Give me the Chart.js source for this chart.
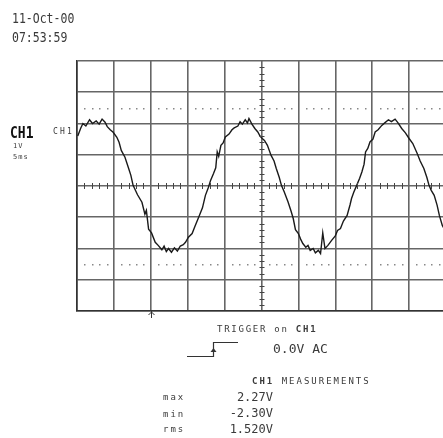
<!DOCTYPE html>
<html>
<head>
<meta charset="utf-8">
<script src="https://cdn.jsdelivr.net/npm/chart.js@4.4.1/dist/chart.umd.min.js"></script>
<style>
html,body{margin:0;padding:0;background:#fff;}
#wrap{position:relative;width:443px;height:438px;overflow:hidden;}
canvas{position:absolute;left:0;top:0;}
.t{position:absolute;font-family:"DejaVu Sans Mono","Liberation Mono",monospace;color:#3a3a3a;white-space:pre;line-height:1;transform-origin:0 0;}
</style>
</head>
<body>
<div id="wrap">
<canvas id="c" width="446" height="438"></canvas>
<div class="t" style="left:12px;top:12px;font-size:11.5px;transform:scaleY(1.2);">11-Oct-00</div>
<div class="t" style="left:12px;top:31px;font-size:11.5px;transform:scaleY(1.2);">07:53:59</div>
<div class="t" style="left:10px;top:125px;font-size:13px;font-weight:bold;color:#111;transform:scaleY(1.2);">CH1</div>
<div class="t" style="left:13px;top:143px;font-size:7px;letter-spacing:1px;">1V</div>
<div class="t" style="left:13px;top:154px;font-size:7px;letter-spacing:1px;">5ms</div>
<div class="t" style="left:53px;top:128px;font-size:8px;letter-spacing:2.2px;">CH1</div>
<div class="t" style="left:217px;top:325px;font-size:9px;letter-spacing:1.75px;">TRIGGER on <b>CH1</b></div>
<div class="t" style="left:273px;top:342px;font-size:13px;">0.0V AC</div>
<div class="t" style="left:252px;top:377px;font-size:9px;letter-spacing:2px;"><b>CH1</b> MEASUREMENTS</div>
<div class="t" style="left:163px;top:393px;font-size:9px;letter-spacing:2px;">max</div>
<div class="t" style="left:163px;top:410px;font-size:9px;letter-spacing:2px;">min</div>
<div class="t" style="left:163px;top:425px;font-size:9px;letter-spacing:2px;">rms</div>
<div class="t" style="right:170px;top:391px;font-size:12px;">2.27V</div>
<div class="t" style="right:170px;top:407px;font-size:12px;">-2.30V</div>
<div class="t" style="right:170px;top:423px;font-size:12px;">1.520V</div>
</div>
<script>
// time in ms (5 ms/div, 10 divisions)
const timeMs = [0.1,0.5,0.8,1.2,1.7,2.1,2.6,3.0,3.4,3.8,4.1,4.5,4.9,5.4,5.7,6.0,6.5,7.0,7.3,7.6,8.2,8.8,9.2,9.4,9.7,10.1,10.6,11.0,11.5,11.8,12.1,12.4,12.8,13.2,13.6,14.0,14.4,14.7,15.1,15.6,16.0,16.5,17.0,17.4,17.8,18.1,18.5,18.8,19.0,19.2,19.5,19.8,20.1,20.6,21.0,21.3,21.8,22.1,22.4,22.8,23.1,23.3,23.7,24.1,24.5,24.8,25.1,25.4,25.8,26.3,26.7,27.0,27.4,27.7,28.1,28.6,29.0,29.3,29.6,30.0,30.3,30.6,31.0,31.3,31.6,32.0,32.3,32.7,33.0,33.3,33.6,34.0,34.5,35.0,35.3,35.7,36.1,36.6,37.0,37.2,37.5,37.9,38.3,38.6,38.9,39.1,39.4,39.7,40.1,40.4,40.8,41.3,41.7,42.2,42.6,43.1,43.5,44.0,44.5,45.0,45.5,46.1,46.5,47.0,47.4,47.7,48.0,48.4,48.8,49.1,49.5,50.0];
// CH1 volts (1 V/div)
const ch1Volts = [1.60,1.85,2.00,1.92,2.12,2.00,2.08,1.98,2.14,2.04,1.90,1.80,1.72,1.56,1.40,1.14,0.92,0.56,0.34,0.02,-0.28,-0.52,-0.90,-0.78,-1.38,-1.50,-1.80,-1.90,-2.04,-1.92,-2.10,-2.00,-2.12,-1.98,-2.08,-1.92,-1.88,-1.80,-1.64,-1.52,-1.28,-0.99,-0.70,-0.30,-0.05,0.18,0.40,0.58,1.09,0.95,1.30,1.38,1.57,1.66,1.80,1.86,1.92,2.06,1.98,2.12,2.02,2.16,1.98,1.84,1.73,1.60,1.52,1.46,1.30,0.98,0.80,0.56,0.28,0.02,-0.20,-0.51,-0.80,-1.04,-1.40,-1.52,-1.70,-1.84,-1.96,-1.90,-2.06,-2.00,-2.14,-2.06,-2.16,-1.50,-2.00,-1.90,-1.74,-1.60,-1.42,-1.36,-1.12,-0.94,-0.60,-0.40,-0.20,0.02,0.25,0.45,0.70,1.09,1.20,1.41,1.50,1.73,1.80,1.94,2.02,2.12,2.06,2.14,2.02,1.84,1.70,1.52,1.36,1.04,0.80,0.56,0.28,0.02,-0.14,-0.30,-0.62,-0.94,-1.26,-1.47];
const xRange = [0, 50];
const yRange = [-4, 4];
const dottedLevels = [2.5, -2.5];
const triggerTimeMs = 10;

const points = timeMs.map((t, i) => ({x: t, y: ch1Volts[i]}));

const scopePlugin = {
  id: 'scope',
  afterDatasetsDraw(chart) {
    const ctx = chart.ctx, xs = chart.scales.x, ys = chart.scales.y, a = chart.chartArea;
    ctx.save();
    const cx = xs.getPixelForValue(25), cy = ys.getPixelForValue(0);
    ctx.strokeStyle = '#444';
    ctx.lineWidth = 1;
    for (let t = xRange[0]; t <= xRange[1]; t += 1) {
      if (t % 5 === 0) continue;
      const px = Math.round(xs.getPixelForValue(t)) + 0.5;
      ctx.beginPath(); ctx.moveTo(px, cy - 3); ctx.lineTo(px, cy + 3); ctx.stroke();
    }
    for (let v = -40; v <= 40; v += 2) {
      if (v % 10 === 0) continue;
      const py = Math.round(ys.getPixelForValue(v / 10)) + 0.5;
      ctx.beginPath(); ctx.moveTo(cx - 2, py); ctx.lineTo(cx + 3, py); ctx.stroke();
    }
    ctx.fillStyle = '#888';
    dottedLevels.forEach(lv => {
      const py = Math.round(ys.getPixelForValue(lv));
      for (let t = xRange[0]; t <= xRange[1]; t += 1) {
        if (t % 5 === 0) continue;
        const px = Math.round(xs.getPixelForValue(t));
        ctx.fillRect(px, py, 1.5, 1.5);
      }
    });
    const tx = Math.round(xs.getPixelForValue(triggerTimeMs)) + 0.5;
    ctx.strokeStyle = '#333';
    ctx.beginPath(); ctx.moveTo(tx, a.bottom); ctx.lineTo(tx, a.bottom + 7); ctx.stroke();
    ctx.beginPath(); ctx.moveTo(tx - 3, a.bottom + 4); ctx.lineTo(tx, a.bottom + 1); ctx.lineTo(tx + 3, a.bottom + 4); ctx.stroke();
    ctx.lineWidth = 1.2;
    ctx.beginPath();
    ctx.moveTo(187, 356.5); ctx.lineTo(213.5, 356.5); ctx.lineTo(213.5, 342.5); ctx.lineTo(238, 342.5);
    ctx.stroke();
    ctx.beginPath(); ctx.moveTo(210.5, 352); ctx.lineTo(213.5, 348); ctx.lineTo(216.5, 352); ctx.closePath();
    ctx.fillStyle = '#333'; ctx.fill();
    ctx.restore();
  }
};

new Chart(document.getElementById('c'), {
  type: 'line',
  data: {
    datasets: [{
      data: points,
      borderColor: '#1a1a1a',
      borderWidth: 1.4,
      pointRadius: 0,
      tension: 0,
      fill: false
    }]
  },
  options: {
    responsive: false,
    animation: false,
    devicePixelRatio: 1,
    layout: {padding: {left: 77, top: 61, right: 0, bottom: 127}},
    plugins: {legend: {display: false}, tooltip: {enabled: false}},
    scales: {
      x: {
        type: 'linear', min: xRange[0], max: xRange[1],
        ticks: {display: false, stepSize: 5},
        grid: {color: '#666', lineWidth: 1.6, drawTicks: false},
        border: {display: true, color: '#333', width: 1.6},
        afterFit: s => { s.height = 0; }
      },
      y: {
        type: 'linear', min: yRange[0], max: yRange[1],
        ticks: {display: false, stepSize: 1},
        grid: {color: '#666', lineWidth: 1.6, drawTicks: false},
        border: {display: true, color: '#333', width: 1.6},
        afterFit: s => { s.width = 0; }
      }
    }
  },
  plugins: [scopePlugin]
});
</script>
</body>
</html>
